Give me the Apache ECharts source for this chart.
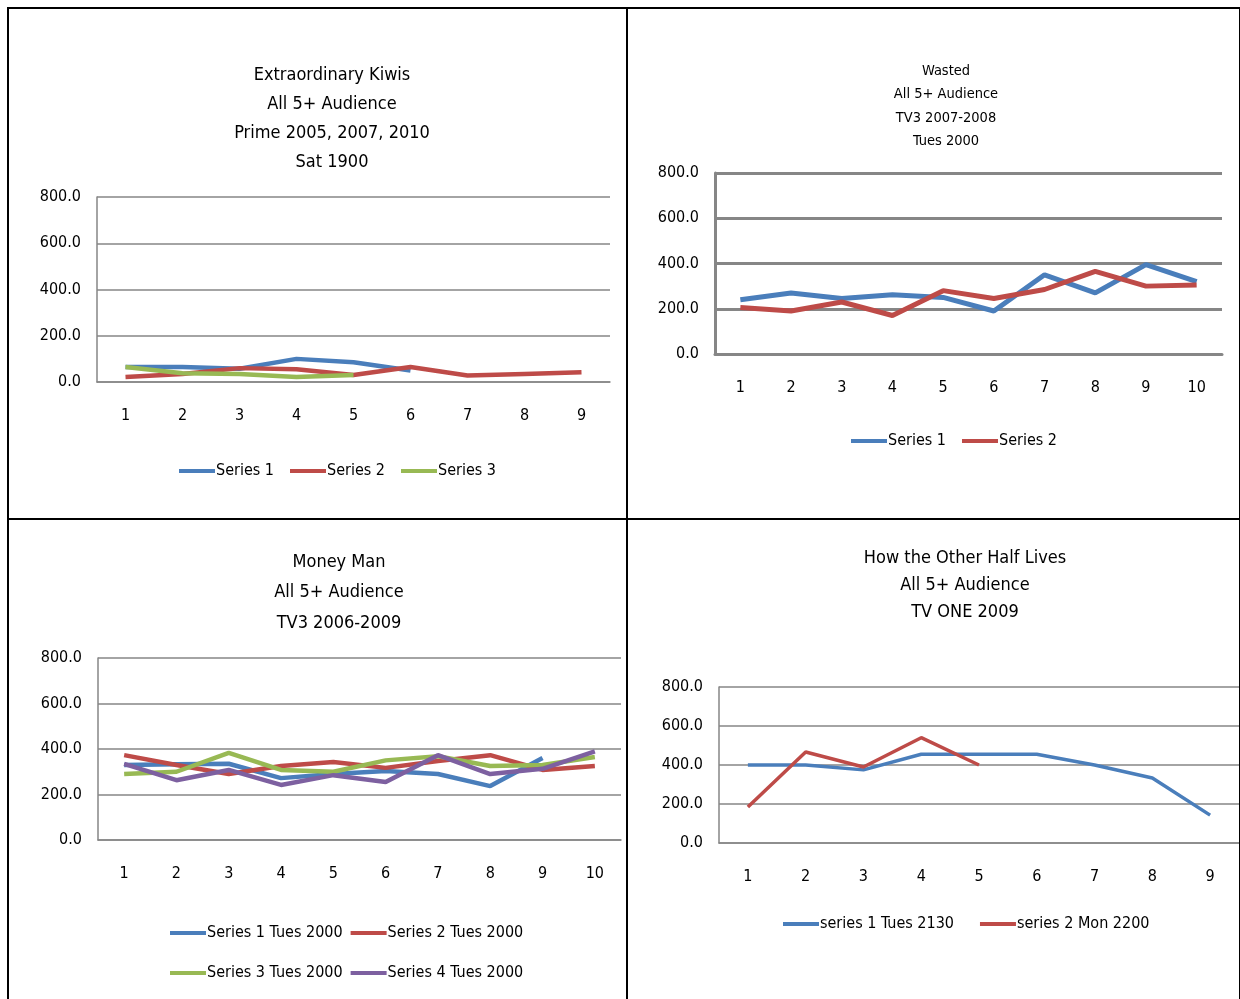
<!DOCTYPE html>
<html>
<head>
<meta charset="utf-8">
<style>
  body { margin: 0; background: #fff; }
  .box { position: absolute; border: 2px solid #000; box-sizing: border-box; }
</style>
</head>
<body>
<div id="c1" class="box" style="left:7px;top:7px;width:621px;height:513px"></div>
<div id="c2" class="box" style="left:626px;top:7px;width:615px;height:513px"></div>
<div id="c3" class="box" style="left:7px;top:518px;width:621px;height:490px"></div>
<div id="c4" class="box" style="left:626px;top:518px;width:615px;height:490px"></div>
<script src="https://cdn.jsdelivr.net/npm/echarts@6/dist/echarts.min.js"></script>
<script>
var FONT = '"Liberation Sans Narrow", "DejaVu Sans Condensed", sans-serif';
var COLORS = ['#4a7ebb', '#be4b48', '#98b954', '#7d60a0'];

// Extraordinary Kiwis
var kiwiCats = ['1', '2', '3', '4', '5', '6', '7', '8', '9'];
var kiwiS1 = [65, 65, 57, 100, 85, 50];
var kiwiS2 = [22, 35, 60, 55, 30, 65, 28, 35, 42];
var kiwiS3 = [65, 38, 35, 22, 30];

// Wasted
var wastedCats = ['1', '2', '3', '4', '5', '6', '7', '8', '9', '10'];
var wastedS1 = [240, 270, 245, 262, 250, 190, 350, 270, 395, 320];
var wastedS2 = [205, 190, 230, 170, 280, 245, 285, 365, 300, 305];

// Money Man
var moneyCats = ['1', '2', '3', '4', '5', '6', '7', '8', '9', '10'];
var moneyS1 = [330, 333, 335, 272, 290, 303, 290, 237, 360];
var moneyS2 = [373, 330, 290, 325, 343, 317, 347, 373, 308, 325];
var moneyS3 = [290, 300, 383, 308, 300, 350, 368, 325, 330, 365];
var moneyS4 = [335, 263, 308, 242, 285, 255, 373, 290, 313, 390];

// How the Other Half Lives
var halfCats = ['1', '2', '3', '4', '5', '6', '7', '8', '9'];
var halfS1 = [400, 400, 375, 455, 455, 455, 400, 333, 143];
var halfS2 = [185, 467, 390, 540, 400];

function makeChart(id, cfg) {
  var chart = echarts.init(document.getElementById(id));
  var series = cfg.series.map(function (s, i) {
    return {
      name: s.name, type: 'line', data: s.data, symbol: 'none',
      lineStyle: { width: cfg.lw, color: COLORS[i] }, itemStyle: { color: COLORS[i] }
    };
  });
  chart.setOption({
    animation: false,
    color: COLORS,
    title: {
      text: cfg.title, left: cfg.titleX, top: cfg.titleY, textAlign: 'center',
      textStyle: { fontFamily: FONT, fontWeight: 'normal', fontSize: cfg.titleSize, lineHeight: cfg.titleLH, color: '#000' }
    },
    legend: {
      data: cfg.series.map(function (s) { return s.name; }),
      left: cfg.legendX, top: cfg.legendY, width: cfg.legendW,
      icon: 'rect', itemWidth: 36, itemHeight: 4, itemGap: cfg.legendGap || 16,
      textStyle: { fontFamily: FONT, fontSize: 16, color: '#000', lineHeight: cfg.legendLH || 20, padding: [0, 0, 0, -4] }
    },
    grid: cfg.grid,
    xAxis: {
      type: 'category', data: cfg.cats, boundaryGap: true,
      axisLine: { lineStyle: { color: '#868686', width: cfg.axW } },
      axisTick: { show: false },
      axisLabel: { fontFamily: FONT, fontSize: 16, color: '#000', margin: 26 }
    },
    yAxis: {
      type: 'value', min: 0, max: 800, interval: 200,
      axisLine: { show: true, lineStyle: { color: '#868686', width: cfg.axW } },
      axisTick: { show: false },
      splitLine: { lineStyle: { color: '#868686', width: cfg.axW } },
      axisLabel: { fontFamily: FONT, fontSize: 16, color: '#000', margin: 16,
        formatter: function (v) { return v.toFixed(1); } }
    },
    series: series
  });
}

makeChart('c1', {
  title: 'Extraordinary Kiwis\nAll 5+ Audience\nPrime 2005, 2007, 2010\nSat 1900',
  titleX: 318, titleY: 47, titleSize: 18, titleLH: 29, lw: 4.5, axW: 1.5,
  grid: { left: 88, right: 16, top: 188, height: 185 },
  cats: kiwiCats, legendX: 165, legendY: 447, legendW: 400,
  series: [{ name: 'Series 1', data: kiwiS1 }, { name: 'Series 2', data: kiwiS2 }, { name: 'Series 3', data: kiwiS3 }]
});
makeChart('c2', {
  title: 'Wasted\nAll 5+ Audience\nTV3 2007-2008\nTues 2000',
  titleX: 313, titleY: 45, titleSize: 14.5, titleLH: 23.5, lw: 5, axW: 3,
  grid: { left: 87, right: 17, top: 164, height: 181 },
  cats: wastedCats, legendX: 218, legendY: 417, legendW: 300,
  series: [{ name: 'Series 1', data: wastedS1 }, { name: 'Series 2', data: wastedS2 }]
});
makeChart('c3', {
  title: 'Money Man\nAll 5+ Audience\nTV3 2006-2009',
  titleX: 325, titleY: 22, titleSize: 18, titleLH: 30.5, lw: 4.5, axW: 1.5,
  grid: { left: 89, right: 5, top: 138, height: 182 },
  cats: moneyCats, legendX: 156, legendY: 392, legendW: 380, legendGap: 8, legendLH: 32,
  series: [{ name: 'Series 1 Tues 2000', data: moneyS1 }, { name: 'Series 2 Tues 2000', data: moneyS2 },
           { name: 'Series 3 Tues 2000', data: moneyS3 }, { name: 'Series 4 Tues 2000', data: moneyS4 }]
});
makeChart('c4', {
  title: 'How the Other Half Lives\nAll 5+ Audience\nTV ONE 2009',
  titleX: 332, titleY: 20, titleSize: 18, titleLH: 27, lw: 3.5, axW: 1.5,
  grid: { left: 91, right: -17, top: 167, height: 156 },
  cats: halfCats, legendX: 150, legendY: 389, legendW: 450, legendGap: 26,
  series: [{ name: 'series 1 Tues 2130', data: halfS1 }, { name: 'series 2 Mon 2200', data: halfS2 }]
});
</script>
</body>
</html>
